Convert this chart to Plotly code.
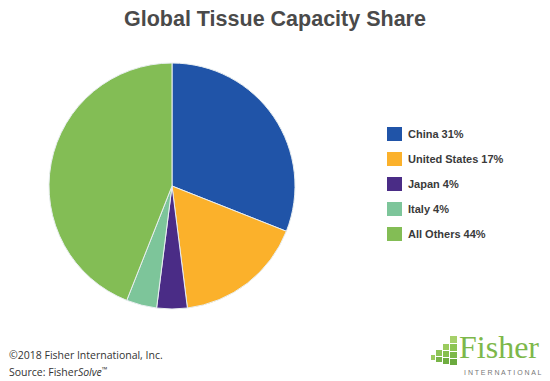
import plotly.graph_objects as go

labels = ["China", "United States", "Japan", "Italy", "All Others"]
values = [31, 17, 4, 4, 44]
colors = ["#2054A8", "#FBB12B", "#4A2C86", "#7DC59A", "#83BD55"]

# page body has an 8px margin at left/top; figure fills the rest of the 550x381 window
OFF = 8
W, H = 550 - OFF, 381 - OFF


def px(x):
    return (x - OFF) / W


def py(y):
    return (H - (y - OFF)) / H


fig = go.Figure()
R = 123
fig.add_trace(go.Pie(
    labels=labels, values=values, sort=False, direction="clockwise", rotation=0,
    marker=dict(colors=colors, line=dict(color="#e8eef0", width=1)),
    textinfo="none", hoverinfo="label+percent", showlegend=False,
    domain=dict(x=[px(172 - R), px(172 + R)], y=[py(186 + R), py(186 - R)]),
))

shapes = []
annotations = []
# manual legend
for i, (lab, val, col) in enumerate(zip(labels, values, colors)):
    yc = 134 + 25 * i
    shapes.append(dict(type="rect", xref="paper", yref="paper",
                       x0=px(387), x1=px(402), y0=py(yc + 7), y1=py(yc - 7),
                       fillcolor=col, line=dict(width=0)))
    annotations.append(dict(x=px(406), y=py(yc), xref="paper", yref="paper",
                            xanchor="left", yanchor="middle", showarrow=False,
                            text=f"<b>{lab} {val}%</b>",
                            font=dict(family="Arial, Liberation Sans", size=11, color="#3a3a3a")))

# title
annotations.append(dict(x=px(275), y=py(19), xref="paper", yref="paper",
                        xanchor="center", yanchor="middle", showarrow=False,
                        text="<b>Global Tissue Capacity Share</b>",
                        font=dict(family="Arial, Liberation Sans", size=21.5, color="#4a4a4a")))

# footer
annotations.append(dict(x=px(7), y=py(355), xref="paper", yref="paper",
                        xanchor="left", yanchor="middle", showarrow=False,
                        text="©2018 Fisher International, Inc.",
                        font=dict(family="Open Sans", size=10.5, color="#333333")))
annotations.append(dict(x=px(7), y=py(371), xref="paper", yref="paper",
                        xanchor="left", yanchor="middle", showarrow=False,
                        text="Source: Fisher<i>Solve</i><sup>™</sup>",
                        font=dict(family="Open Sans", size=10.5, color="#333333")))

# logo
annotations.append(dict(x=px(457), y=py(347), xref="paper", yref="paper",
                        xanchor="left", yanchor="middle", showarrow=False,
                        text="Fisher",
                        font=dict(family="Liberation Serif, DejaVu Serif", size=32, color="#7DB84A")))
annotations.append(dict(x=px(462), y=py(372), xref="paper", yref="paper",
                        xanchor="left", yanchor="middle", showarrow=False,
                        text="I N T E R N A T I O N A L",
                        font=dict(family="Arial, Liberation Sans", size=7, color="#777777")))
blocks = [
    (450, 457, 336, 343, "#A6D06A"), (450, 457, 344, 351, "#8CC452"),
    (450, 457, 352, 358, "#7DB84A"), (450, 457, 359, 365, "#6BAA3E"),
    (443, 449, 344, 350, "#9BCB5E"), (443, 449, 351, 357, "#86BF4E"),
    (443, 449, 358, 364, "#6FAD40"),
    (436, 442, 350, 356, "#8EC456"), (436, 442, 357, 362, "#79B548"),
    (431, 435, 355, 360, "#9BCB5E"),
]
for x0, x1, y0, y1, c in blocks:
    shapes.append(dict(type="rect", xref="paper", yref="paper",
                       x0=px(x0), x1=px(x1), y0=py(y1), y1=py(y0),
                       fillcolor=c, line=dict(width=0)))

fig.update_layout(width=W, height=H, margin=dict(l=0, r=0, t=0, b=0),
                  paper_bgcolor="white", plot_bgcolor="white",
                  shapes=shapes, annotations=annotations, showlegend=False)
fig.write_html("out.html")
